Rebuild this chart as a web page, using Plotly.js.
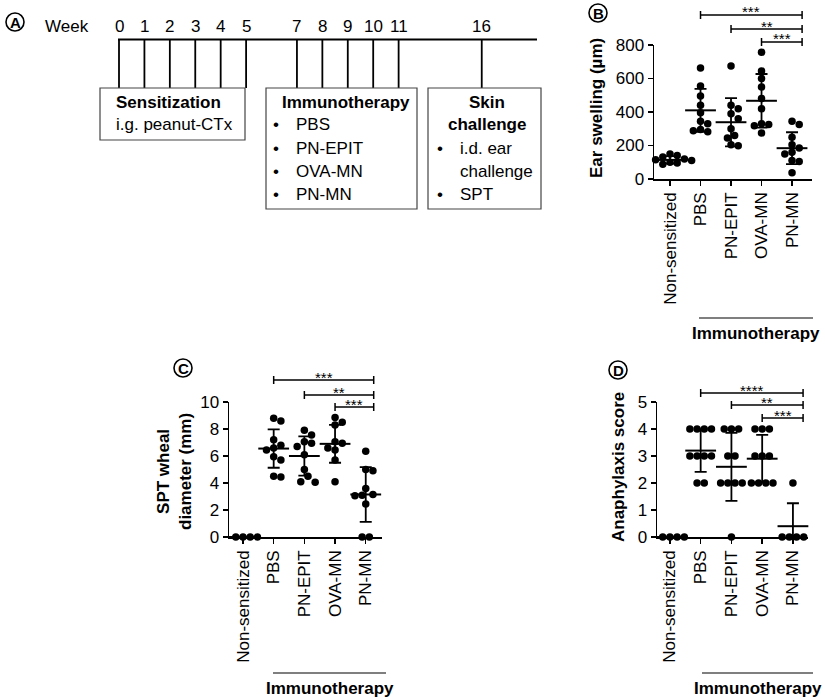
<!DOCTYPE html>
<html>
<head>
<meta charset="utf-8">
<script src="https://cdn.plot.ly/plotly-3.0.1.min.js"></script>
<style>body{margin:0;background:#fff}</style>
</head>
<body>
<div id="chart" style="width:825px;height:697px"></div>
<script>
// groups on the x axis of panels B, C and D
const groups = ["Non-sensitized", "PBS", "PN-EPIT", "OVA-MN", "PN-MN"];

// B: ear swelling (µm), one list per group
const earSwelling = [
    [150, 140, 132, 120, 115, 110, 100, 95, 92, 88],
    [663, 555, 495, 440, 395, 345, 330, 295, 288, 282],
    [675, 440, 420, 390, 360, 300, 260, 245, 205, 198],
    [757, 645, 600, 550, 480, 420, 330, 325, 318, 275],
    [345, 325, 250, 205, 185, 160, 150, 110, 105, 38]
];
const earMean = [114, 410, 339, 467, 184];
const earSD = [22, 128, 144, 160, 95];

// C: SPT wheal diameter (mm)
const sptWheal = [
    [0, 0, 0, 0, 0],
    [8.8, 8.6, 7.2, 6.8, 6.6, 6.45, 5.95, 5.7, 4.5, 4.45],
    [7.9, 7.55, 7.05, 6.95, 6.7, 6.1, 5.0, 4.5, 4.1, 4.05],
    [8.85, 8.5, 8.3, 7.05, 6.95, 6.6, 6.45, 5.7, 4.1],
    [6.35, 5.0, 4.9, 3.6, 3.15, 3.1, 3.05, 2.45, 0, 0]
];
const sptMean = [0, 6.55, 6.0, 6.9, 3.15];
const sptSD = [0, 1.42, 1.45, 1.4, 2.03];

// D: anaphylaxis score
const anaScore = [
    [0, 0, 0, 0, 0],
    [4, 4, 4, 4, 3, 3, 3, 3, 2, 2],
    [4, 4, 4, 3, 3, 2, 2, 2, 2, 0],
    [4, 4, 4, 3, 3, 3, 2, 2, 2, 2],
    [2, 0, 0, 0, 0]
];
const anaMean = [0, 3.2, 2.6, 2.9, 0.4];
const anaSD = [0, 0.79, 1.26, 0.88, 0.85];

// significance: bracket from group index to PN-MN
const sigFrom = [1, 2, 3];
const sigB = ["***", "**", "***"];
const sigC = ["***", "**", "***"];
const sigD = ["****", "**", "***"];

// A: timeline
const weeks = [0, 1, 2, 3, 4, 5, 7, 8, 9, 10, 11, 16];
const sensitization = ["i.g. peanut-CTx"];
const therapies = ["PBS", "PN-EPIT", "OVA-MN", "PN-MN"];
const skinTests = [["i.d. ear", "challenge"], ["SPT"]];

const W = 825, H = 697;
const px = x => x / W;
const py = y => 1 - y / H;
const FONT = "Liberation Sans, Arial, sans-serif";

// beeswarm: spread dots sideways so they don't overlap (pixel space)
function swarm(vals, pxPerUnit, pxPerCat, d) {
    const placed = [];
    const offs = new Array(vals.length);
    const order = vals.map((v, i) => i).sort((a, b) => vals[b] - vals[a]);
    for (const i of order) {
        const y = vals[i] * pxPerUnit;
        let best = 0;
        for (let k = 0; k < 60; k++) {
            const cand = k === 0 ? 0 : (k % 2 ? 1 : -1) * Math.ceil(k / 2) * d / 2;
            if (placed.every(p => Math.hypot(p.x - cand, p.y - y) >= d)) { best = cand; break; }
        }
        placed.push({ x: best, y: y });
        offs[i] = best;
    }
    // centre rows of identical values
    const byVal = {};
    vals.forEach((v, i) => { (byVal[v] = byVal[v] || []).push(i); });
    Object.values(byVal).forEach(idx => {
        if (idx.length < 2) return;
        const m = idx.reduce((s, i) => s + offs[i], 0) / idx.length;
        idx.forEach(i => { offs[i] -= m; });
    });
    return offs.map(o => o / pxPerCat);
}

const panels = [
    { xa: "x", ya: "y", xPx: [654, 812], yPx: [179, 45], xRange: [-0.525, 4.655], yMax: 800, dtick: 200,
      values: earSwelling, mean: earMean, sd: earSD, sig: sigB, sigY: [15, 29, 42], end: 4.33,
      title: "Ear swelling (µm)", titleX: 597, titleY: 108, bar: [699, 813, 318, 333] },
    { xa: "x2", ya: "y2", xPx: [229, 382], yPx: [537, 402], xRange: [-0.456, 4.53], yMax: 10, dtick: 2,
      values: sptWheal, mean: sptMean, sd: sptSD, sig: sigC, sigY: [380, 395, 407], end: 4.26,
      title: "SPT wheal<br>diameter (mm)", titleX: 174, titleY: 472, bar: [273, 386, 673, 688] },
    { xa: "x3", ya: "y3", xPx: [657, 808], yPx: [537, 402], xRange: [-0.42, 4.49], yMax: 5, dtick: 1,
      values: anaScore, mean: anaMean, sd: anaSD, sig: sigD, sigY: [393, 405, 418], end: 4.33,
      title: "Anaphylaxis score", titleX: 618, titleY: 467, bar: [702, 813, 673, 688] }
];

const traces = [];
const shapes = [];
const annotations = [];
const layout = {
    width: W, height: H,
    margin: { l: 0, r: 0, t: 0, b: 0 },
    paper_bgcolor: "#fff", plot_bgcolor: "rgba(0,0,0,0)",
    showlegend: false,
    font: { family: FONT, color: "#000", size: 17 }
};

panels.forEach((p, n) => {
    const pxPerUnit = (p.yPx[0] - p.yPx[1]) / p.yMax;
    const pxPerCat = (p.xPx[1] - p.xPx[0]) / (p.xRange[1] - p.xRange[0]);
    const xs = [], ys = [];
    p.values.forEach((vals, g) => {
        const offs = swarm(vals, pxPerUnit, pxPerCat, 7.2);
        vals.forEach((v, i) => { xs.push(g + offs[i]); ys.push(v); });
    });
    traces.push({
        type: "scatter", mode: "markers", xaxis: p.xa, yaxis: p.ya,
        x: xs, y: ys, cliponaxis: false, hoverinfo: "skip",
        marker: { size: 7.5, color: "#000", line: { width: 0 } }
    });
    traces.push({
        type: "scatter", mode: "markers", xaxis: p.xa, yaxis: p.ya,
        x: groups.map((g, i) => i), y: p.mean, cliponaxis: false,
        marker: { symbol: "line-ew", size: 22, color: "#000", line: { width: 2, color: "#000" } },
        error_y: { type: "data", array: p.sd, visible: true, width: 6, thickness: 1.8, color: "#000" }
    });

    const suffix = n === 0 ? "" : String(n + 1);
    layout["xaxis" + suffix] = {
        domain: [px(p.xPx[0]), px(p.xPx[1])], range: p.xRange, anchor: p.ya,
        tickvals: groups.map((g, i) => i), ticktext: groups, tickangle: -90,
        ticks: "outside", ticklen: 5, tickwidth: 1.5, tickcolor: "#000",
        showline: true, linewidth: 1.5, linecolor: "#000",
        showgrid: false, zeroline: false, automargin: false,
        tickfont: { family: FONT, size: 17, color: "#000" }
    };
    layout["yaxis" + suffix] = {
        domain: [py(p.yPx[0]), py(p.yPx[1])], range: [0, p.yMax], anchor: p.xa,
        tick0: 0, dtick: p.dtick,
        ticks: "outside", ticklen: 5, tickwidth: 1.5, tickcolor: "#000",
        showline: true, linewidth: 1.5, linecolor: "#000",
        showgrid: false, zeroline: false, automargin: false,
        tickfont: { family: FONT, size: 17, color: "#000" }
    };

    // y title
    annotations.push({
        xref: "paper", yref: "paper", x: px(p.titleX), y: py(p.titleY),
        text: p.title, textangle: -90, showarrow: false,
        xanchor: "center", yanchor: "middle",
        font: { family: FONT, size: 17, weight: "bold", color: "#000" }
    });

    // significance brackets
    sigFrom.forEach((from, k) => {
        const yl = p.sigY[k];
        const line = { width: 1.5, color: "#000" };
        shapes.push({ type: "line", xref: p.xa, yref: "paper", x0: from, x1: p.end, y0: py(yl), y1: py(yl), line });
        shapes.push({ type: "line", xref: p.xa, yref: "paper", x0: from, x1: from, y0: py(yl - 4), y1: py(yl + 4), line });
        shapes.push({ type: "line", xref: p.xa, yref: "paper", x0: p.end, x1: p.end, y0: py(yl - 4), y1: py(yl + 4), line });
        annotations.push({
            xref: p.xa, yref: "paper", x: (from + p.end) / 2, y: py(yl - 3),
            text: p.sig[k], showarrow: false, xanchor: "center", yanchor: "middle",
            font: { family: FONT, size: 15, color: "#000" }
        });
    });

    // Immunotherapy grouping line
    shapes.push({ type: "line", xref: "paper", yref: "paper",
        x0: px(p.bar[0]), x1: px(p.bar[1]), y0: py(p.bar[2]), y1: py(p.bar[2]),
        line: { width: 1.2, color: "#000" } });
    annotations.push({
        xref: "paper", yref: "paper", x: px((p.bar[0] + p.bar[1]) / 2), y: py(p.bar[3]),
        text: "Immunotherapy", showarrow: false, xanchor: "center", yanchor: "middle",
        font: { family: FONT, size: 17, weight: "bold", color: "#000" }
    });
});

// ---- panel A: timeline ----
// weeks after 11 are drawn compressed, as in the original diagram
const mapWeek = w => (w <= 11 ? w : 11 + (w - 11) * 0.654);
const tx = [], ty = [];
weeks.forEach(w => { tx.push(mapWeek(w), mapWeek(w), null); ty.push(1, 0, null); });
traces.push({
    type: "scatter", mode: "lines", xaxis: "x4", yaxis: "y4",
    x: tx, y: ty, line: { width: 1.8, color: "#000" }, hoverinfo: "skip"
});
layout.xaxis4 = { domain: [px(95), px(545)], range: [-24 / 25.42, 426 / 25.42], anchor: "y4", visible: false };
layout.yaxis4 = { domain: [py(95), py(30)], range: [-7 / 48.5, 1 + 9.5 / 48.5], anchor: "x4", visible: false };
shapes.push({ type: "line", xref: "paper", yref: "paper", x0: px(118), x1: px(537), y0: py(39.5), y1: py(39.5),
    line: { width: 1.8, color: "#000" } });
weeks.forEach(w => {
    annotations.push({ xref: "x4", yref: "paper", x: mapWeek(w), y: py(26), text: String(w), showarrow: false,
        xanchor: "center", yanchor: "middle", font: { family: FONT, size: 17, color: "#000" } });
});
annotations.push({ xref: "paper", yref: "paper", x: px(43), y: py(26), text: "Week", showarrow: false,
    xanchor: "left", yanchor: "middle", font: { family: FONT, size: 17, color: "#000" } });

function boxText(x, y, text, bold, anchor) {
    annotations.push({ xref: "paper", yref: "paper", x: px(x), y: py(y), text: text, showarrow: false,
        xanchor: anchor || "left", yanchor: "middle",
        font: { family: FONT, size: 17, weight: bold ? "bold" : "normal", color: "#000" } });
}
function box(x0, x1, y0, y1) {
    shapes.push({ type: "rect", xref: "paper", yref: "paper", x0: px(x0), x1: px(x1), y0: py(y1), y1: py(y0),
        line: { width: 1.2, color: "#444" }, fillcolor: "rgba(0,0,0,0)" });
}
box(100, 245, 88, 140);
boxText(114, 103, "Sensitization", true);
sensitization.forEach((t, i) => boxText(114, 125 + i * 23, t));

box(266, 417, 88, 209);
boxText(280, 102, "Immunotherapy", true);
therapies.forEach((t, i) => {
    boxText(276, 125 + i * 23, "•", false, "center");
    boxText(294, 125 + i * 23, t);
});

box(428, 541, 88, 209);
boxText(487, 103, "Skin", true, "center");
boxText(487, 125, "challenge", true, "center");
let row = 0;
skinTests.forEach(lines => {
    boxText(439.5, 149 + row * 22.5, "•", false, "center");
    lines.forEach(t => { boxText(458, 149 + row * 22.5, t); row++; });
});

// circled panel letters
[["A", 15, 22], ["B", 598, 13], ["C", 183, 368], ["D", 618, 370]].forEach(([l, x, y]) => {
    shapes.push({ type: "circle", xref: "paper", yref: "paper",
        x0: px(x - 9), x1: px(x + 9), y0: py(y + 9), y1: py(y - 9),
        line: { width: 1.6, color: "#000" } });
    annotations.push({ xref: "paper", yref: "paper", x: px(x), y: py(y), text: l, showarrow: false,
        xanchor: "center", yanchor: "middle", font: { family: FONT, size: 15, weight: "bold", color: "#000" } });
});

layout.shapes = shapes;
layout.annotations = annotations;

Plotly.newPlot("chart", traces, layout, { displayModeBar: false, staticPlot: true });
</script>
</body>
</html>
